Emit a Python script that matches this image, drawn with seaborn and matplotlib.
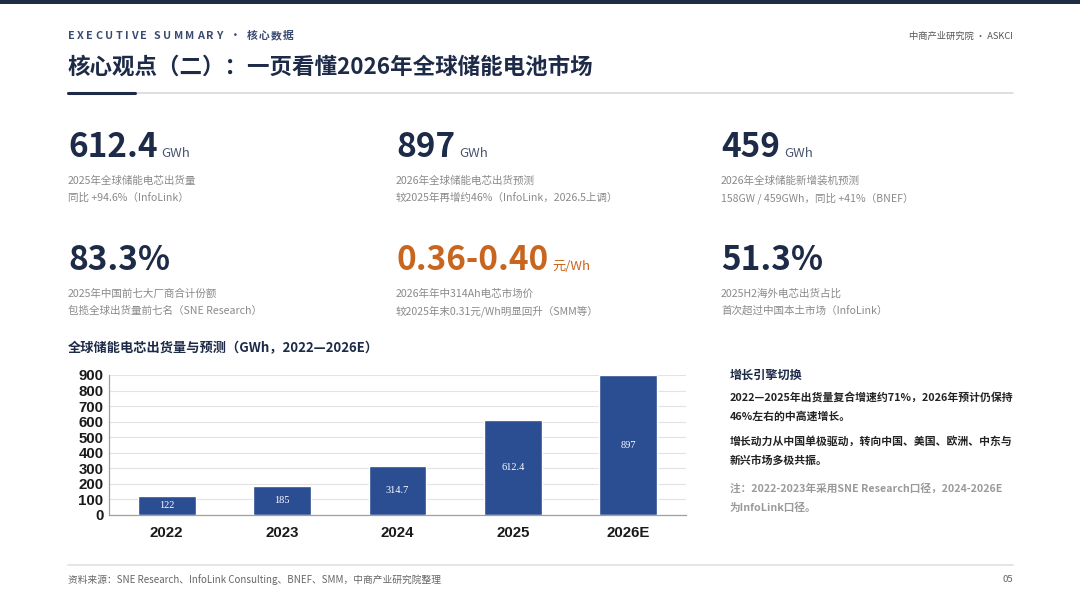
import matplotlib
matplotlib.use("Agg")
import matplotlib.pyplot as plt
import seaborn as sns
import pandas as pd

# ── Data ─────────────────────────────────────────────────────────────────
years = ["2022", "2023", "2024", "2025", "2026E"]
shipments = [122, 185, 314.7, 612.4, 897]
bar_labels = ["122", "185", "314.7", "612.4", "897"]

kpi_values = ["612.4", "897", "459", "83.3%", "0.36-0.40", "51.3%"]
kpi_units = ["GWh", "GWh", "GWh", "", "元/Wh", ""]
kpi_line1 = ["2025年全球储能电芯出货量", "2026年全球储能电芯出货预测",
             "2026年全球储能新增装机预测", "2025年中国前七大厂商合计份额",
             "2026年年中314Ah电芯市场价", "2025H2海外电芯出货占比"]
kpi_line2 = ["同比 +94.6%（InfoLink）", "较2025年再增约46%（InfoLink，2026.5上调）",
             "158GW / 459GWh，同比 +41%（BNEF）", "包揽全球出货量前七名（SNE Research）",
             "较2025年末0.31元/Wh明显回升（SMM等）", "首次超过中国本土市场（InfoLink）"]

side_title = "增长引擎切换"
side_para1 = ["2022—2025年出货量复合增速约71%，2026年预计仍保持", "46%左右的中高速增长。"]
side_para2 = ["增长动力从中国单极驱动，转向中国、美国、欧洲、中东与", "新兴市场多极共振。"]
side_note = ["注：2022-2023年采用SNE Research口径，2024-2026E", "为InfoLink口径。"]

NAVY = "#1d2b48"
BAR = "#2b4d91"
ORANGE = "#c8661f"
GRAY = "#8a8a8a"

sns.set_theme(style="white")
plt.rcParams["font.family"] = ["Noto Sans CJK SC", "DejaVu Sans"]

W, H = 1080, 608
fig = plt.figure(figsize=(W / 100, H / 100), dpi=100)
fig.patch.set_facecolor("white")
renderer = fig.canvas.get_renderer()


def P(x, y):
    return x / W, 1 - y / H


def txt(x, y, s, **kw):
    return fig.text(*P(x, y), s, **kw)


def right_edge(t):
    bb = t.get_window_extent(renderer)
    return bb.x1  # pixels from left


# top bar
fig.add_artist(plt.Rectangle((0, 1 - 4 / H), 1, 4 / H, transform=fig.transFigure,
                             color="#1f2d44", lw=0))

# header: letter-spaced
x = 68
for ch in "EXECUTIVE SUMMARY · 核心数据":
    t = txt(x, 36, ch, fontsize=7.8, fontweight="bold", color="#3b4a70", va="center")
    x = right_edge(t) + (2.4 if ord(ch) < 128 else 1.2)
txt(1013, 36, "中商产业研究院 · ASKCI", fontsize=6.7, color="#555555",
    ha="right", va="center")

txt(68, 67, "核心观点（二）：一页看懂2026年全球储能电池市场", fontsize=16.2,
    fontweight="bold", color=NAVY, va="center")

fig.add_artist(plt.Line2D([68 / W, 1013 / W], [1 - 93 / H] * 2, color="#d9d9d9", lw=1.2))
fig.add_artist(plt.Line2D([68 / W, 135 / W], [1 - 93 / H] * 2, color=NAVY, lw=2.2))

# KPI grid
col_x = [68, 396, 721]
row_base = [157, 270]
for i, (v, u, l1, l2) in enumerate(zip(kpi_values, kpi_units, kpi_line1, kpi_line2)):
    cx = col_x[i % 3]
    by = row_base[i // 3]
    color = ORANGE if i == 4 else NAVY
    t = txt(cx, by, v, fontsize=24, fontweight="bold", color=color, va="baseline")
    if u:
        ux = right_edge(t) + 4
        txt(ux, by, u, fontsize=9.5, color="#4a5570" if i != 4 else ORANGE,
            va="baseline")
    txt(cx, by + 24, l1, fontsize=7.6, color=GRAY, va="center")
    txt(cx, by + 41, l2, fontsize=7.6, color=GRAY, va="center")

# chart
txt(68, 348, "全球储能电芯出货量与预测（GWh，2022—2026E）", fontsize=9.5,
    fontweight="bold", color=NAVY, va="center")

df = pd.DataFrame({"year": years, "shipment": shipments})
ax = fig.add_axes([109 / W, 1 - 515 / H, 577 / W, 140 / H])
sns.barplot(data=df, x="year", y="shipment", color=BAR, saturation=1, width=0.5, ax=ax)
ax.set_xlim(-0.5, len(years) - 0.5)
ax.set_ylim(0, 900)
ax.set_yticks(range(0, 901, 100))
ax.set_xlabel("")
ax.set_ylabel("")
ax.yaxis.grid(True, color="#e3e3e3", lw=0.8)
ax.set_axisbelow(True)
for side in ["top", "right"]:
    ax.spines[side].set_visible(False)
for side in ["left", "bottom"]:
    ax.spines[side].set_color("#a0a0a0")
    ax.spines[side].set_linewidth(0.9)
ax.set_xticks([i - 0.5 for i in range(len(years) + 1)], minor=True)
ax.tick_params(axis="x", which="major", length=0, pad=8)
ax.tick_params(axis="x", which="minor", length=4, color="#a0a0a0", width=0.9)
ax.tick_params(axis="y", length=3, color="#a0a0a0", width=0.9, pad=1)
for lab in ax.get_xticklabels() + ax.get_yticklabels():
    lab.set_fontfamily(["Liberation Sans", "DejaVu Sans"])
    lab.set_fontweight("bold")
    lab.set_fontsize(10.8)
    lab.set_color("#1a1a1a")
ax.bar_label(ax.containers[0], labels=bar_labels, label_type="center", color="white",
             fontsize=7.5, family="Liberation Serif")

# side panel
txt(730, 375, side_title, fontsize=8.7, fontweight="bold", color=NAVY, va="center")
for j, line in enumerate(side_para1):
    txt(730, 398 + 18 * j, line, fontsize=7.8, fontweight="bold", color="#222222", va="center")
for j, line in enumerate(side_para2):
    txt(730, 441 + 19 * j, line, fontsize=7.8, fontweight="bold", color="#222222", va="center")
for j, line in enumerate(side_note):
    txt(730, 488 + 20 * j, line, fontsize=7.7, fontweight="bold", color="#9a9a9a", va="center")

# footer
fig.add_artist(plt.Line2D([68 / W, 1013 / W], [1 - 565 / H] * 2, color="#e0e0e0", lw=1.2))
txt(68, 580, "资料来源：SNE Research、InfoLink Consulting、BNEF、SMM，中商产业研究院整理",
    fontsize=7.0, color="#666666", va="center")
txt(1013, 580, "05", fontsize=6.8, color="#666666", ha="right", va="center")

fig.savefig("out.png", dpi=100)
